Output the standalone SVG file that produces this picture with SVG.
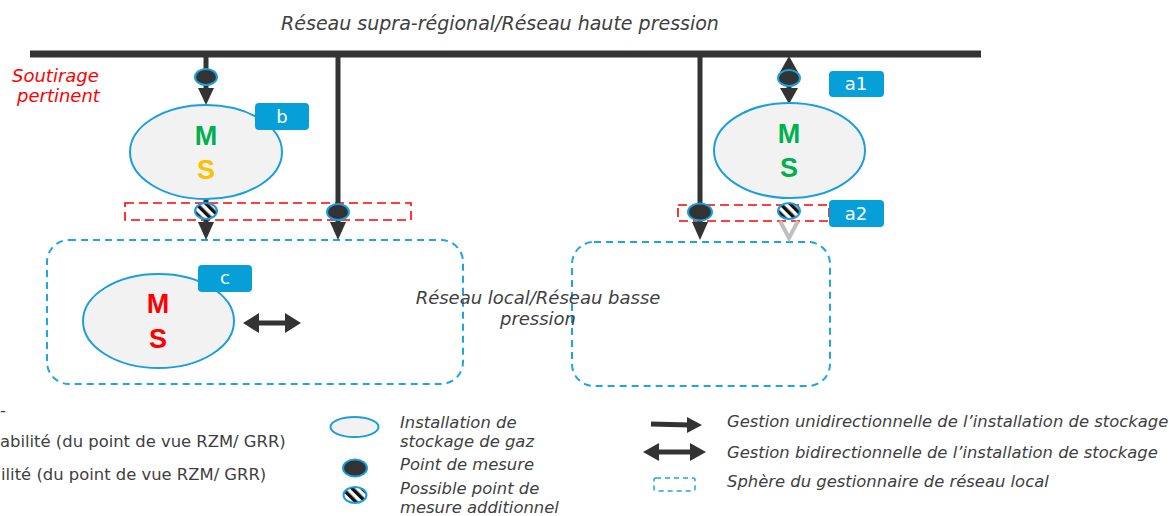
<svg xmlns="http://www.w3.org/2000/svg" width="1169" height="516" viewBox="0 0 1169 516">
<defs>
<style>
.t{font-family:"DejaVu Sans",Verdana,sans-serif;fill:#404040}
.it{font-style:italic}
.lg{font-size:16.4px}
.store{fill:#f2f2f2;stroke:#1a9fdc;stroke-width:2}
.meas{fill:#333;stroke:#1a9fdc;stroke-width:2}
.hatch{fill:url(#hp);stroke:#1a9fdc;stroke-width:2}
.lbl{fill:#079fd8}
.lt{font-family:"DejaVu Sans",Verdana,sans-serif;fill:#fff;font-size:18px;text-anchor:middle}
.big{font-family:"Liberation Sans",Arial,sans-serif;font-weight:bold;font-size:27px;text-anchor:middle}
.ln{stroke:#333;stroke-width:5;fill:none}
.hd{fill:#333}
.sph{fill:none;stroke:#1aa7e3;stroke-width:2;stroke-dasharray:7 5}
.red{fill:none;stroke:#ff0000;stroke-width:1.6;stroke-dasharray:9 5}
</style>
<pattern id="hp" width="7" height="7" patternUnits="userSpaceOnUse" patternTransform="rotate(-45)">
<rect width="7" height="7" fill="#fff"/>
<rect width="3.5" height="7" fill="#111"/>
</pattern>
</defs>
<rect width="1169" height="516" fill="#fff"/>

<g id="title">
<text class="t it" x="500" y="30" font-size="19" text-anchor="middle">Réseau supra-régional/Réseau haute pression</text>
</g>
<g id="soutirage">
<text class="it" x="12" y="82" font-size="18" fill="#ff0000" font-family="DejaVu Sans,Verdana,sans-serif">Soutirage</text>
<text class="it" x="17" y="102" font-size="18" fill="#ff0000" font-family="DejaVu Sans,Verdana,sans-serif">pertinent</text>
</g>

<g id="spheres">
<rect id="sphere-left" class="sph" x="47" y="240" width="416" height="144" rx="22"/>
<rect id="sphere-right" class="sph" x="572" y="242" width="258" height="144" rx="22"/>
<rect id="red-left" class="red" x="125" y="203" width="286" height="17"/>
<rect id="red-right" class="red" x="678" y="205" width="151" height="16"/>
</g>

<g id="connectors">
<line x1="30" y1="54" x2="981" y2="54" stroke="#333" stroke-width="7"/>
<line class="ln" x1="206" y1="54" x2="206" y2="90"/>
<polygon class="hd" points="198,88 214,88 206,105"/>
<line class="ln" x1="206" y1="198" x2="206" y2="225"/>
<polygon class="hd" points="198,222 214,222 206,240"/>
<line class="ln" x1="338" y1="54" x2="338" y2="225"/>
<polygon class="hd" points="330,222 346,222 338,240"/>
<line class="ln" x1="700" y1="54" x2="700" y2="225"/>
<polygon class="hd" points="692,222 708,222 700,240"/>
<line class="ln" x1="789" y1="62" x2="789" y2="92"/>
<polygon class="hd" points="780,72 798,72 789,56"/>
<polygon class="hd" points="780,88 798,88 789,104"/>
<polyline points="780,221 789,238 798,221" fill="none" stroke="#bfbfbf" stroke-width="4"/>
<line class="ln" x1="255" y1="323" x2="289" y2="323"/>
<polygon class="hd" points="243,323 259,313 259,333"/>
<polygon class="hd" points="301,323 285,313 285,333"/>
</g>

<g id="points">
<ellipse class="meas" cx="206" cy="77" rx="11" ry="8"/>
<ellipse class="hatch" cx="206" cy="211" rx="11" ry="8"/>
<ellipse class="meas" cx="338" cy="212" rx="11" ry="8"/>
<ellipse class="meas" cx="700" cy="212" rx="12" ry="8.5"/>
<ellipse class="hatch" cx="789" cy="211" rx="11" ry="8"/>
<ellipse class="meas" cx="789" cy="78" rx="11" ry="8"/>
</g>

<g id="storage-b">
<ellipse class="store" cx="206" cy="152" rx="76" ry="47"/>
<text class="big" x="206" y="145" fill="#00b050">M</text>
<text class="big" x="206" y="179" fill="#ffc000">S</text>
<rect class="lbl" x="255" y="103" width="54" height="27" rx="4"/>
<text class="lt" x="282" y="123">b</text>
</g>

<g id="storage-a">
<ellipse class="store" cx="789.5" cy="150.5" rx="75.5" ry="47.5"/>
<text class="big" x="789" y="143" fill="#00b050">M</text>
<text class="big" x="789" y="177" fill="#00b050">S</text>
<rect class="lbl" x="829" y="71" width="55" height="26" rx="4"/>
<text class="lt" x="856" y="90">a1</text>
<rect class="lbl" x="829" y="200" width="55" height="27" rx="4"/>
<text class="lt" x="856" y="220">a2</text>
</g>

<g id="storage-c">
<ellipse class="store" cx="158.5" cy="321" rx="75.5" ry="47"/>
<text class="big" x="158" y="313" fill="#ff0000">M</text>
<text class="big" x="158" y="348" fill="#ff0000">S</text>
<rect class="lbl" x="198" y="265" width="54" height="27" rx="4"/>
<text class="lt" x="225" y="284">c</text>
</g>

<g id="local-label">
<text class="t it" x="538" y="304" font-size="18" text-anchor="middle">Réseau local/Réseau basse</text>
<text class="t it" x="538" y="325" font-size="18" text-anchor="middle">pression</text>
</g>

<g id="legend-left">
<text class="t lg" x="0" y="416">-</text>
<text class="t lg" x="0" y="447">abilité (du point de vue RZM/ GRR)</text>
<text class="t lg" x="1" y="480">ilité (du point de vue RZM/ GRR)</text>
</g>

<g id="legend-mid">
<ellipse class="store" cx="354.5" cy="427" rx="24" ry="10"/>
<text class="t it lg" x="400" y="428">Installation de</text>
<text class="t it lg" x="400" y="447">stockage de gaz</text>
<ellipse class="meas" cx="355" cy="468" rx="12" ry="8.5"/>
<text class="t it lg" x="400" y="470">Point de mesure</text>
<ellipse class="hatch" cx="355" cy="495" rx="11.5" ry="8"/>
<text class="t it lg" x="400" y="494">Possible point de</text>
<text class="t it lg" x="400" y="513">mesure additionnel</text>
</g>

<g id="legend-right">
<line class="ln" x1="651" y1="424" x2="690" y2="425"/>
<polygon class="hd" points="702,425 687,417 687,433"/>
<text class="t it lg" x="727" y="427">Gestion unidirectionnelle de l’installation de stockage</text>
<line class="ln" x1="655" y1="452" x2="694" y2="452"/>
<polygon class="hd" points="643,452 659,443 659,461"/>
<polygon class="hd" points="706,452 690,443 690,461"/>
<text class="t it lg" x="727" y="458">Gestion bidirectionnelle de l’installation de stockage</text>
<rect x="654" y="478" width="41" height="13" rx="2" fill="none" stroke="#1aa7e3" stroke-width="1.5" stroke-dasharray="5 4"/>
<text class="t it lg" x="727" y="487">Sphère du gestionnaire de réseau local</text>
</g>
</svg>
